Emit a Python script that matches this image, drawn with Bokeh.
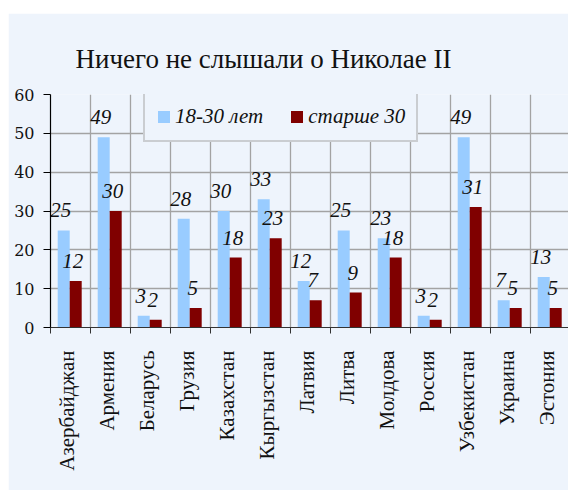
import math
from bokeh.plotting import figure
from bokeh.models import (ColumnDataSource, Range1d, FixedTicker, Legend, LegendItem)
from bokeh.core.properties import value
from bokeh.embed import file_html
from bokeh.resources import INLINE

countries = ["Азербайджан", "Армения", "Беларусь", "Грузия", "Казахстан", "Кыргызстан",
             "Латвия", "Литва", "Молдова", "Россия", "Узбекистан", "Украина", "Эстония"]
young = [25, 49, 3, 28, 30, 33, 12, 25, 23, 3, 49, 7, 13]
older = [12, 30, 2, 5, 18, 23, 7, 9, 18, 2, 31, 5, 5]
y_ticks = [0, 10, 20, 30, 40, 50, 60]
title_text = "Ничего не слышали о Николае II"
series_names = ["18-30 лет", "старше 30"]

BG = "#eef4fc"
BLUE = "#99ccff"
RED = "#800000"
GRID = "#a3a3a3"

n = len(countries)
idx = list(range(n))
src = ColumnDataSource(dict(
    xb=[i + 0.33 for i in idx], xr=[i + 0.63 for i in idx],
    young=young, older=older,
    ly=[str(v) for v in young], lo=[str(v) for v in older],
))

p = figure(width=560, height=477, output_backend="svg", toolbar_location=None,
           x_range=Range1d(0, 12.95), y_range=Range1d(0, 60),
           min_border_left=42, min_border_right=0, min_border_top=81, min_border_bottom=163)
p.margin = (13, 0, 0, 8)
p.background_fill_color = BG
p.border_fill_color = BG
p.outline_line_color = None

rb = p.vbar(x="xb", top="young", width=0.3, bottom=0, source=src, fill_color=BLUE, line_color=None)
rr = p.vbar(x="xr", top="older", width=0.3, bottom=0, source=src, fill_color=RED, line_color=None)

lab_font = "Liberation Serif"
p.text(x="xb", y="young", text="ly", source=src, x_offset=-3, y_offset=-20,
       text_align="center", text_baseline="alphabetic", text_font=value(lab_font),
       text_font_style="italic", text_font_size="21px", text_color="#111111")
p.text(x="xr", y="older", text="lo", source=src, x_offset=-3, y_offset=-20,
       text_align="center", text_baseline="alphabetic", text_font=value(lab_font),
       text_font_style="italic", text_font_size="21px", text_color="#111111")

# axes
p.yaxis.ticker = FixedTicker(ticks=y_ticks)
p.yaxis.axis_line_color = "black"
p.yaxis.axis_line_width = 1.2
p.yaxis.major_tick_out = 7
p.yaxis.major_tick_in = 0
p.yaxis.minor_tick_line_color = None
p.yaxis.major_label_standoff = 9
p.yaxis.major_label_text_font = "DejaVu Serif"
p.yaxis.major_label_text_font_size = "16px"
p.yaxis.major_label_text_color = "#111111"

centers = [i + 0.42 for i in idx]
bounds = list(range(n + 1))
p.xaxis.ticker = FixedTicker(ticks=centers, minor_ticks=bounds)
p.xaxis.major_label_overrides = {c: name for c, name in zip(centers, countries)}
p.xaxis.major_tick_out = 0
p.xaxis.major_tick_in = 0
p.xaxis.minor_tick_out = 6
p.xaxis.minor_tick_in = 0
p.xaxis.minor_tick_line_color = "#333333"
p.xaxis.axis_line_color = "#333333"
p.xaxis.axis_line_width = 1.2
p.xaxis.major_label_orientation = math.pi / 2
p.xaxis.major_label_standoff = 17
p.xaxis.major_label_text_font = "Liberation Serif"
p.xaxis.major_label_text_font_size = "21px"
p.xaxis.major_label_text_color = "#111111"

p.xgrid.ticker = FixedTicker(ticks=bounds)
p.xgrid.grid_line_color = GRID
p.xgrid.grid_line_width = 1.3
p.ygrid.grid_line_color = GRID
p.ygrid.grid_line_width = 1.3

# title
p.title.text = title_text
p.title.align = "left"
p.title.offset = 25
p.title.standoff = 42
p.title.text_font = "Liberation Serif"
p.title.text_font_style = "normal"
p.title.text_font_size = "27px"
p.title.text_color = "#111111"

legend = Legend(items=[LegendItem(label=series_names[0], renderers=[rb]),
                       LegendItem(label=series_names[1], renderers=[rr])],
                location=(93, 185), orientation="horizontal",
                glyph_width=15, glyph_height=15, label_standoff=4, spacing=26,
                padding=11, margin=0, label_height=20,
                label_text_font="Liberation Serif", label_text_font_style="italic",
                label_text_font_size="21px", label_text_color="#111111",
                background_fill_color=BG, background_fill_alpha=1.0,
                border_line_color="#a6a6a6", border_line_width=2)
p.add_layout(legend)

open("out.html", "w").write(file_html(p, INLINE))
